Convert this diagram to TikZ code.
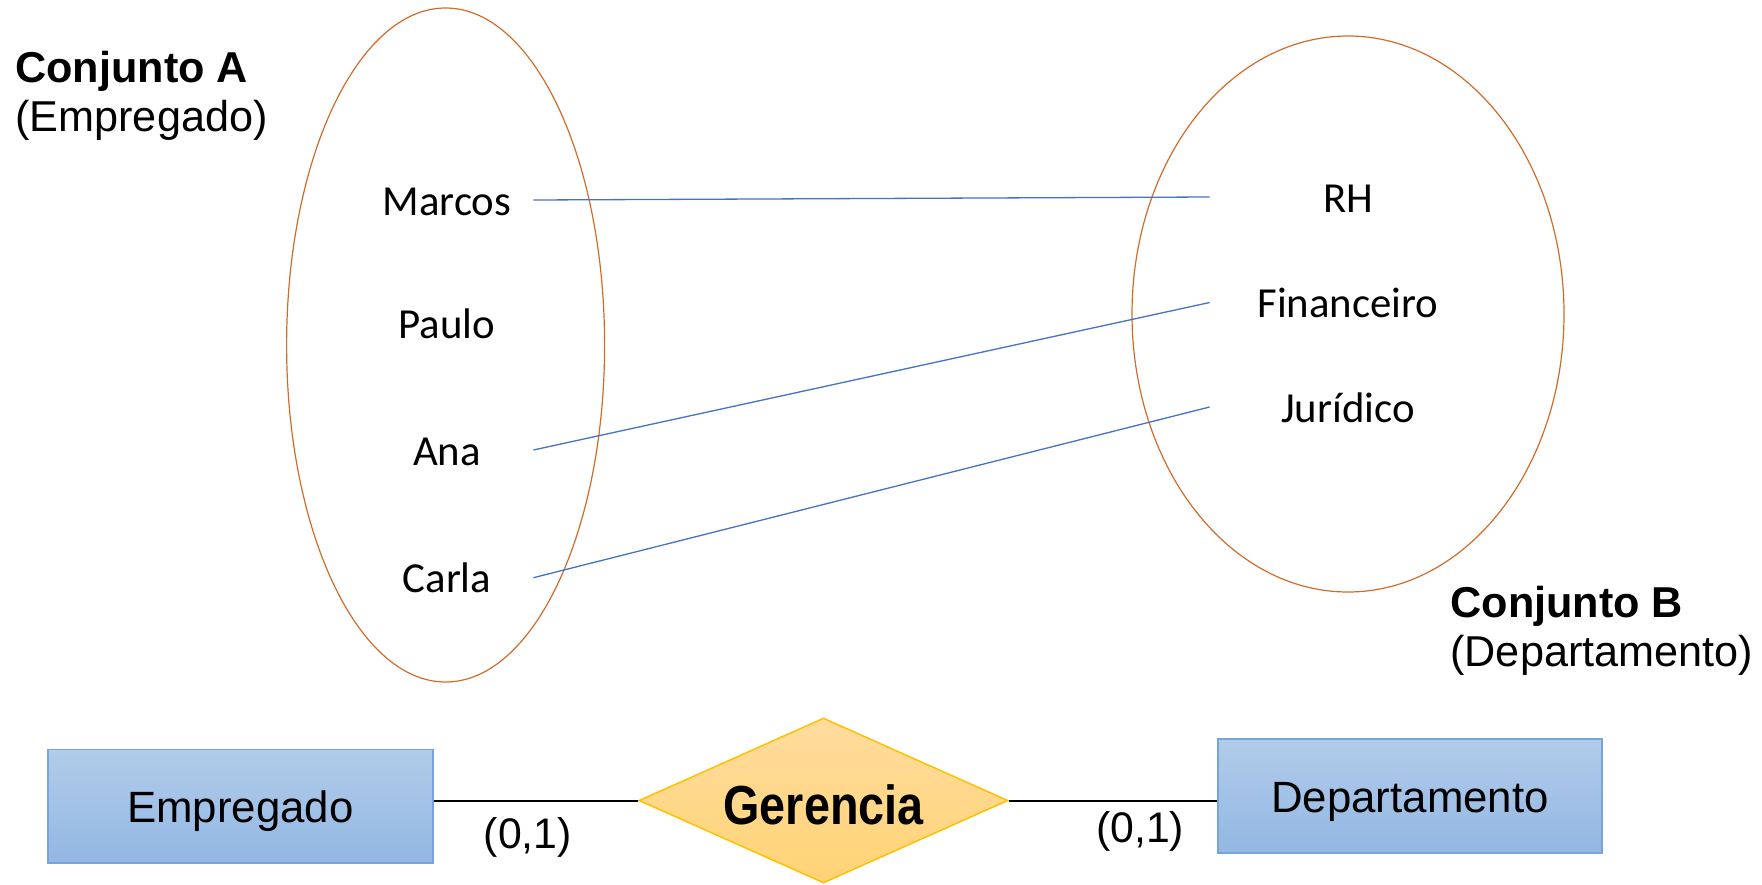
\documentclass[tikz,border=0pt]{standalone}
\usepackage{fontspec}
\setmainfont{Liberation Sans}
\newfontfamily\calibri{Carlito}
\newfontfamily\narrowbold[FakeStretch=0.85]{Liberation Sans Bold}
\usetikzlibrary{shapes.geometric}

\definecolor{setorange}{RGB}{208,108,42}
\definecolor{mapblue}{RGB}{68,114,196}
\definecolor{entborder}{RGB}{120,164,218}
\definecolor{enttop}{RGB}{178,204,234}
\definecolor{entbottom}{RGB}{146,183,227}
\definecolor{reltop}{RGB}{255,220,158}
\definecolor{relbottom}{RGB}{255,211,118}
\definecolor{relborder}{RGB}{255,192,0}

\begin{document}
\begin{tikzpicture}[x=0.5pt,y=-0.5pt]

  \tikzstyle{conjunto} = [setorange, line width=0.6pt]
  \tikzstyle{setlabel} = [anchor=base west, align=left, inner sep=0, font=\fontsize{21.6}{24.5}\selectfont]
  \tikzstyle{elemA} = [anchor=base, inner sep=0, minimum width=86pt, text height=15pt, text depth=0pt, font=\calibri\fontsize{21.4}{24}\selectfont]
  \tikzstyle{elemB} = [elemA, minimum width=138pt]
  \tikzstyle{mapping} = [mapblue, line width=0.65pt]
  \tikzstyle{entity} = [draw=entborder, line width=0.75pt, top color=enttop, bottom color=entbottom, inner sep=0, text height=16pt, text depth=0pt, font=\fontsize{21.9}{24}\selectfont]
  \tikzstyle{relation} = [diamond, draw=relborder, line width=0.75pt, top color=reltop, bottom color=relbottom, inner sep=0, aspect=2.2, minimum width=184.5pt, minimum height=82.5pt, text height=23.5pt, text depth=0pt, font=\narrowbold\fontsize{27.5}{30}\selectfont]
  \tikzstyle{card} = [anchor=base, inner sep=0, font=\fontsize{21.4}{24}\selectfont]

  \useasboundingbox (0,0) rectangle (1762,884);

  \node[setlabel] (setA) at (15,131.7) {\textbf{Conjunto A}\\(Empregado)};
  \node[setlabel] (setB) at (1450,666) {\textbf{Conjunto B}\\(Departamento)};

  \draw[conjunto] (445.6,345) ellipse [x radius=159, y radius=337];
  \draw[conjunto] (1348,314) ellipse [x radius=216, y radius=278];

  \node[elemA] (marcos) at (447,215) {Marcos};
  \node[elemA] (paulo) at (447,338) {Paulo};
  \node[elemA] (ana) at (447,465) {Ana};
  \node[elemA] (carla) at (447,592.7) {Carla};

  \node[elemB] (rh) at (1348,212) {RH};
  \node[elemB] (financeiro) at (1348,317.5) {Financeiro};
  \node[elemB] (juridico) at (1348,422) {Jurídico};

  \draw[mapping] (marcos.east) -- (rh.west);
  \draw[mapping] (ana.east) -- (financeiro.west);
  \draw[mapping] (carla.east) -- (juridico.west);

  \node[entity, minimum width=192.5pt, minimum height=56.75pt] (empregado) at (240.5,806) {Empregado};
  \node[relation] (gerencia) at (823.5,800.5) {Gerencia};
  \node[entity, minimum width=192pt, minimum height=57pt] (departamento) at (1410,796) {Departamento};

  \draw[line width=1pt] (gerencia.west -| empregado.east) -- node[card, pos=0.46, yshift=-23.75pt] (cardA) {(0,1)} (gerencia.west);
  \draw[line width=1pt] (gerencia.east) -- node[card, pos=0.63, yshift=-21pt] (cardB) {(0,1)} (gerencia.east -| departamento.west);

\end{tikzpicture}
\end{document}
